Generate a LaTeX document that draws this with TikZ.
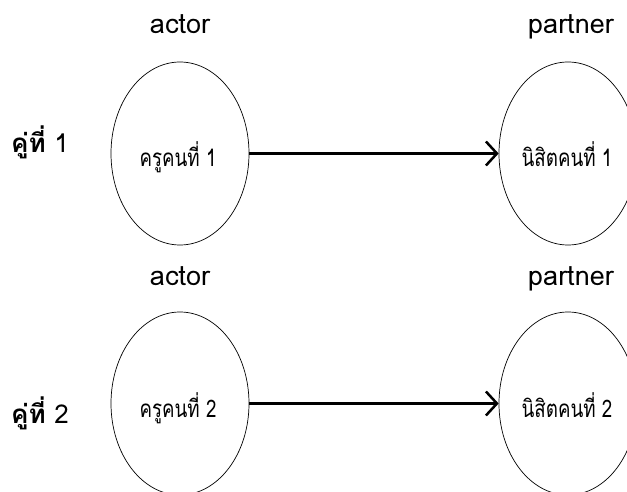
\documentclass[tikz,border=0pt]{standalone}
\usepackage{fontspec}
\setmainfont[Script=Thai]{Loma}
\usetikzlibrary{shapes.geometric,arrows.meta}
\tikzset{
  person/.style={draw, ellipse, line width=0.7pt, minimum width=138pt, minimum height=183pt, inner sep=0pt},
  role/.style={font=\fontsize{27}{30}\selectfont, anchor=base},
  pair/.style={font=\fontsize{26}{30}\selectfont, anchor=base},
  inner/.style={font=\fontsize{22}{26}\selectfont, anchor=base},
  link/.style={line width=2.5pt, -{Straight Barb[length=11pt,width=24pt]}}
}
\begin{document}
\begin{tikzpicture}[x=1pt,y=1pt]
\useasboundingbox (0,0) rectangle (627,-492);
\clip (0,0) rectangle (627,-492);
% row 1
\node[person] (a1) at (180,-153.5) {};
\node[person] (p1) at (568,-153.5) {};
\node[role] (ra1) at (180,-34) {actor};
\node[role] (rp1) at (571,-34) {partner};
\node[pair] (k1) at (40,-153) {{\bfseries คู่ที่} 1};
\node[inner] (t1) at (178,-167) {\scalebox{0.85}[1.1]{ครูคนที่ 1}};
\node[inner] (s1) at (567,-167) {\scalebox{0.85}[1.1]{นิสิตคนที่ 1}};
\draw[link] (a1.east) -- (p1.west);
% row 2
\node[person] (a2) at (180,-403.5) {};
\node[person] (p2) at (568,-403.5) {};
\node[role] (ra2) at (180,-285) {actor};
\node[role] (rp2) at (571,-285) {partner};
\node[pair] (k2) at (40,-423) {{\bfseries คู่ที่} 2};
\node[inner] (t2) at (178,-417) {\scalebox{0.85}[1.1]{ครูคนที่ 2}};
\node[inner] (s2) at (567,-417) {\scalebox{0.85}[1.1]{นิสิตคนที่ 2}};
\draw[link] (a2.east) -- (p2.west);
\end{tikzpicture}
\end{document}
